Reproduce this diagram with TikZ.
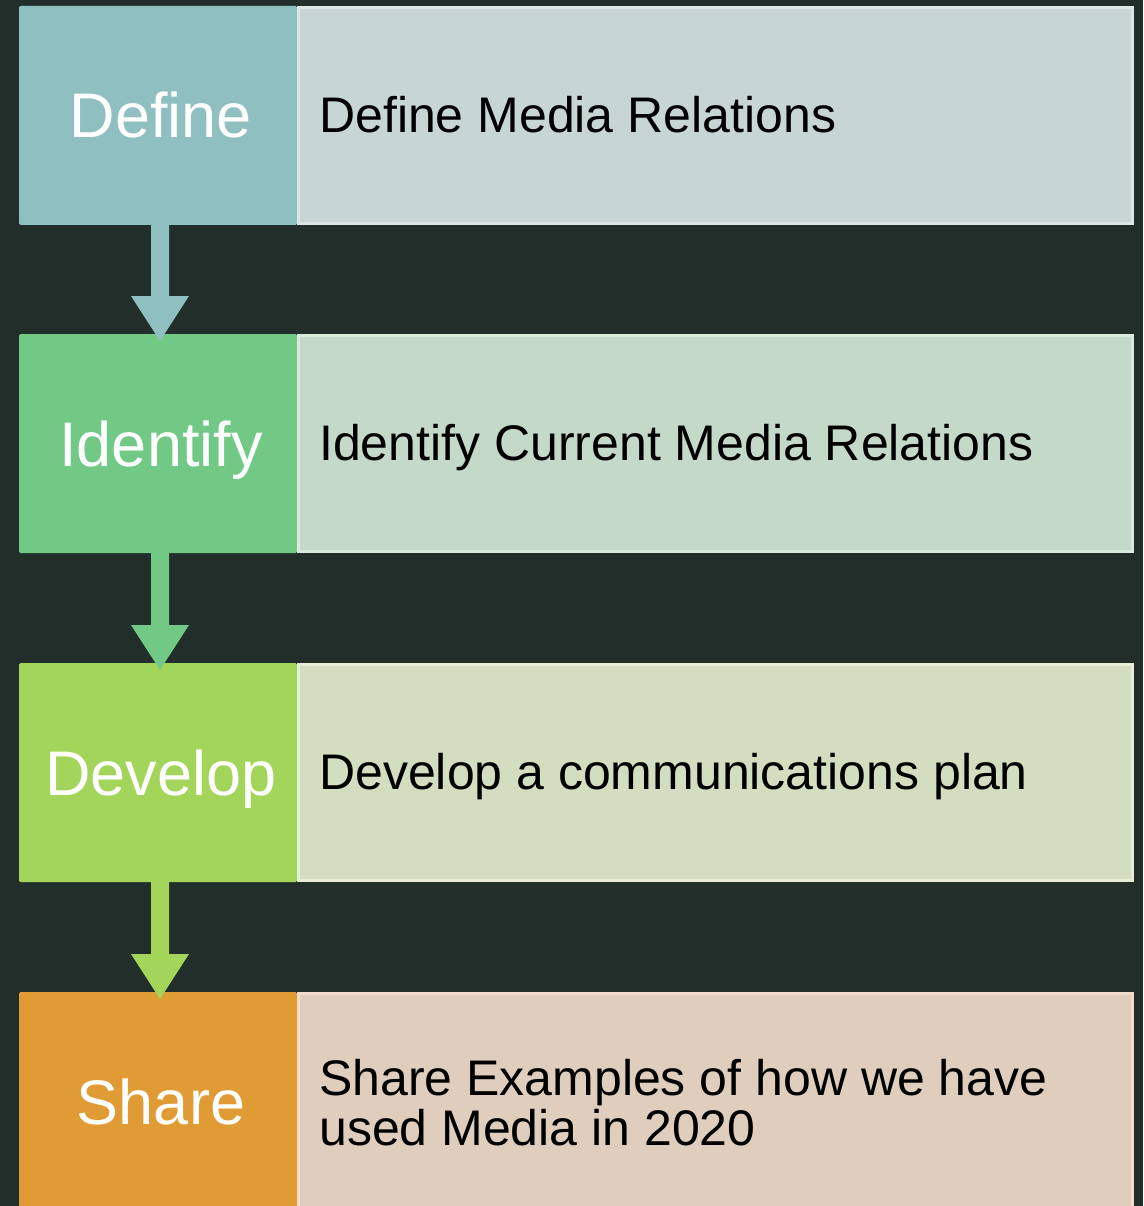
\documentclass[tikz,border=0pt]{standalone}
\usepackage{fontspec}
\setmainfont{Liberation Sans}
\usetikzlibrary{calc}
\definecolor{bg}{HTML}{212E29}
\definecolor{c1}{HTML}{8FBFC0}\definecolor{r1}{HTML}{C7D6D5}\definecolor{b1}{HTML}{DCE7E5}
\definecolor{c2}{HTML}{72C986}\definecolor{r2}{HTML}{C4D9C8}\definecolor{b2}{HTML}{D9EBDC}
\definecolor{c3}{HTML}{A3D55A}\definecolor{r3}{HTML}{D3DDC0}\definecolor{b3}{HTML}{E6EED6}
\definecolor{c4}{HTML}{E19B35}\definecolor{r4}{HTML}{DFCDBE}\definecolor{b4}{HTML}{F2DCCC}
\tikzset{
  leftbox/.style={fill=#1, draw=none, rounded corners=1.5pt, inner sep=0pt, outer sep=0pt,
    minimum width=278pt, minimum height=219pt, anchor=north west, text=white,
    text height=45pt, text depth=0pt,
    font=\fontsize{63}{63}\selectfont, execute at begin node={\hspace*{6pt}}},
  rightbox/.style={fill=#1, inner sep=0pt, outer sep=0pt, line width=3pt,
    minimum width=834pt, minimum height=216pt, anchor=north west},
  desc/.style={anchor=base west, text=black, align=left, inner sep=0pt,
    font=\fontsize{50}{50}\selectfont}
}
\newcommand{\flowarr}[3]{% from node, to node, colour
  \path ($(#1.south)+(2,0)$) coordinate (#1s);
  \path let \p1=(#1s), \p2=(#2.north) in coordinate (#1t) at (\x1,\y2-7pt);
  \fill[#3] ($(#1s)+(-9,0)$) -- ($(#1s)+(9,0)$) -- ($(#1t)+(9,-45)$) -- ($(#1t)+(29,-45)$)
     -- (#1t) -- ($(#1t)+(-29,-45)$) -- ($(#1t)+(-9,-45)$) -- cycle;
}
\begin{document}
\begin{tikzpicture}[x=1pt,y=-1pt]
\useasboundingbox (0,0) rectangle (1143,1206);
\fill[bg] (0,0) rectangle (1143,1206);
\clip (0,0) rectangle (1143,1206);

\node[leftbox=c1] (l1) at (19,6) {Define};
\node[rightbox=r1, draw=b1] (r1) at (298.5,7.5) {};
\node[desc] (t1) at ($(r1.west)+(20.5,17)$) {Define Media Relations};

\node[leftbox=c2] (l2) at (19,334) {Identify};
\node[rightbox=r2, draw=b2] (r2) at (298.5,335.5) {};
\node[desc] (t2) at ($(r2.west)+(20.5,17)$) {Identify Current Media Relations};

\node[leftbox=c3] (l3) at (19,663) {Develop};
\node[rightbox=r3, draw=b3] (r3) at (298.5,664.5) {};
\node[desc] (t3) at ($(r3.west)+(20.5,17)$) {Develop a communications plan};

\node[leftbox=c4] (l4) at (19,992) {Share};
\node[rightbox=r4, draw=b4] (r4) at (298.5,993.5) {};
\node[desc] (t4) at ($(r4.west)+(20.5,43.5)$) {Share Examples of how we have\\used Media in 2020};

\flowarr{l1}{l2}{c1}
\flowarr{l2}{l3}{c2}
\flowarr{l3}{l4}{c3}
\end{tikzpicture}
\end{document}
